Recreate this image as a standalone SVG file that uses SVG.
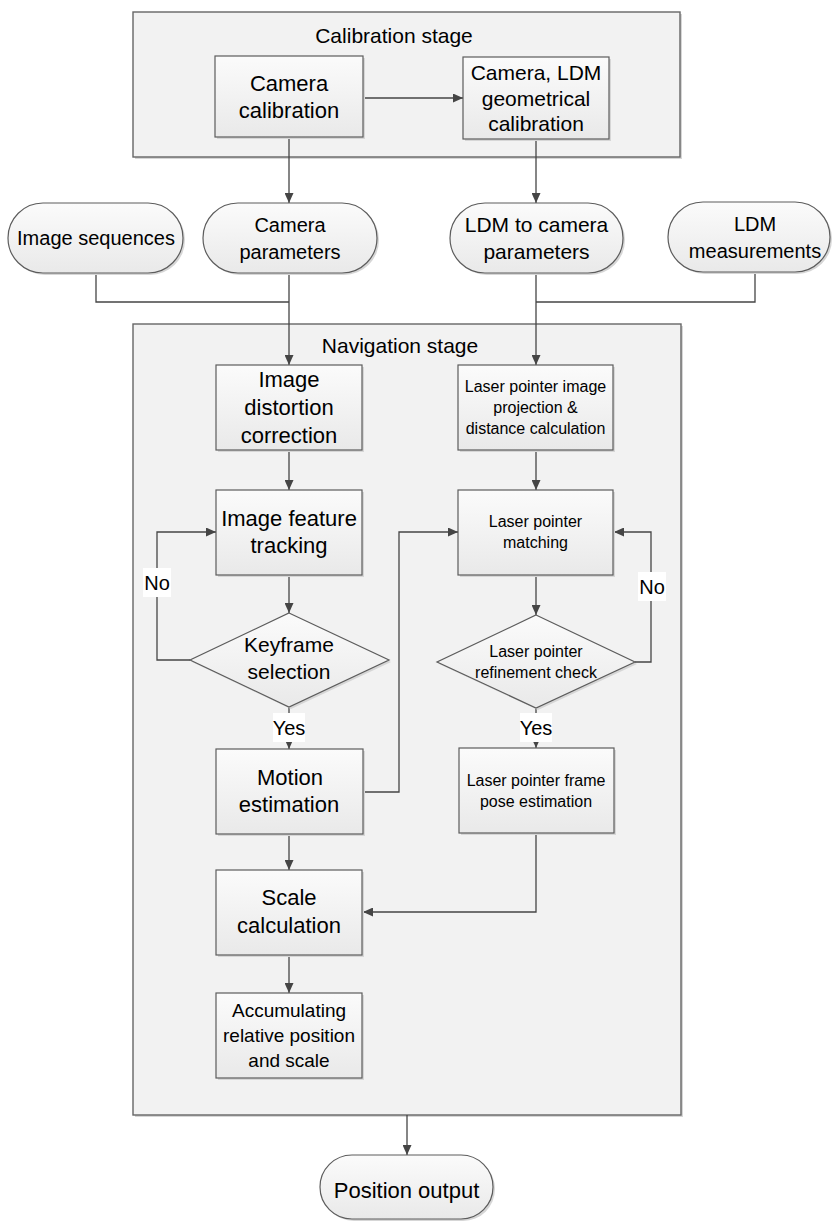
<svg xmlns="http://www.w3.org/2000/svg" width="832" height="1221" viewBox="0 0 832 1221">
<defs>
<linearGradient id="g" x1="0" y1="0" x2="0" y2="1">
<stop offset="0" stop-color="#fbfbfb"/>
<stop offset="1" stop-color="#e9e9e9"/>
</linearGradient>
<marker id="a" markerWidth="10" markerHeight="9" refX="10" refY="4.5" orient="auto" markerUnits="userSpaceOnUse">
<path d="M0,0 L10,4.5 L0,9 z" fill="#454545"/>
</marker>
</defs>
<style>
.stage{fill:#f2f2f2;stroke:#666;stroke-width:1.4}
.sh{fill:#d6d6d6}
.box{fill:url(#g);stroke:#5c5c5c;stroke-width:1.2}
.c{fill:none;stroke:#454545;stroke-width:1.3}
.ar{marker-end:url(#a)}
text{font-family:"Liberation Sans",Arial,sans-serif;fill:#000;text-anchor:middle}
.t21{font-size:21px}
.t22{font-size:22px}
.t20{font-size:20px}
.t16{font-size:16px}
.t19{font-size:19px}
.lbl{fill:#fff}
</style>
<rect width="832" height="1221" fill="#fff"/>

<g id="calibration-stage">
<rect x="135" y="14" width="547" height="145" class="sh"/>
<rect x="133" y="12" width="547" height="145" class="stage"/>
<text x="394" y="42.5" class="t21">Calibration stage</text>
</g>

<g id="navigation-stage">
<rect x="135" y="326" width="548" height="791" class="sh"/>
<rect x="133" y="324" width="548" height="791" class="stage"/>
<text x="400" y="352.5" class="t21">Navigation stage</text>
</g>

<g id="connectors">
<path class="c ar" d="M363,98 L463,98"/>
<path class="c ar" d="M289,137 L289,203"/>
<path class="c ar" d="M536,139 L536,203"/>
<path class="c" d="M96,273 L96,302 L289,302"/>
<path class="c ar" d="M289,273 L289,365"/>
<path class="c ar" d="M536,273 L536,365"/>
<path class="c" d="M755,272 L755,302 L536,302"/>
<path class="c ar" d="M289,450 L289,490"/>
<path class="c ar" d="M536,450 L536,490"/>
<path class="c ar" d="M289,575 L289,613"/>
<path class="c ar" d="M190,660 L157,660 L157,532 L216,532"/>
<path class="c ar" d="M289,707 L289,749"/>
<path class="c ar" d="M363,792 L399,792 L399,532 L458,532"/>
<path class="c ar" d="M536,575 L536,615"/>
<path class="c ar" d="M635,662 L651,662 L651,532 L614,532"/>
<path class="c ar" d="M536,708 L536,748"/>
<path class="c ar" d="M536,833 L536,912 L363,912"/>
<path class="c ar" d="M289,834 L289,870"/>
<path class="c ar" d="M289,955 L289,993"/>
<path class="c ar" d="M407,1115 L407,1155"/>
</g>

<g id="camera-calibration">
<rect x="217" y="58" width="148" height="81" class="sh"/>
<rect x="215" y="56" width="148" height="81" class="box"/>
<text x="289" y="91" class="t22">Camera</text>
<text x="289" y="118" class="t22">calibration</text>
</g>

<g id="geometrical-calibration">
<rect x="465" y="59" width="146" height="82" class="sh"/>
<rect x="463" y="57" width="146" height="82" class="box"/>
<text x="536" y="79.5" class="t21">Camera, LDM</text>
<text x="536" y="105.5" class="t21">geometrical</text>
<text x="536" y="131" class="t21">calibration</text>
</g>

<g id="image-sequences">
<rect x="10" y="205" width="175" height="70" rx="35" class="sh"/>
<rect x="8" y="203" width="175" height="70" rx="35" class="box"/>
<text x="96" y="245" class="t20">Image sequences</text>
</g>

<g id="camera-parameters">
<rect x="205" y="205" width="174" height="70" rx="35" class="sh"/>
<rect x="203" y="203" width="174" height="70" rx="35" class="box"/>
<text x="290" y="232" class="t20">Camera</text>
<text x="290" y="259" class="t20">parameters</text>
</g>

<g id="ldm-camera-parameters">
<rect x="452" y="205" width="173" height="70" rx="35" class="sh"/>
<rect x="450" y="203" width="173" height="70" rx="35" class="box"/>
<text x="536.5" y="232" class="t21">LDM to camera</text>
<text x="536.5" y="259" class="t21">parameters</text>
</g>

<g id="ldm-measurements">
<rect x="670" y="204" width="162" height="70" rx="35" class="sh"/>
<rect x="668" y="202" width="162" height="70" rx="35" class="box"/>
<text x="755" y="231" class="t20">LDM</text>
<text x="755" y="258" class="t20">measurements</text>
</g>

<g id="image-distortion-correction">
<rect x="218" y="367" width="146" height="85" class="sh"/>
<rect x="216" y="365" width="146" height="85" class="box"/>
<text x="289" y="387" class="t22">Image</text>
<text x="289" y="415" class="t22">distortion</text>
<text x="289" y="443" class="t22">correction</text>
</g>

<g id="laser-projection">
<rect x="460" y="367" width="155" height="85" class="sh"/>
<rect x="458" y="365" width="155" height="85" class="box"/>
<text x="535.5" y="392" class="t16">Laser pointer image</text>
<text x="535.5" y="413" class="t16">projection &amp;</text>
<text x="535.5" y="434" class="t16">distance calculation</text>
</g>

<g id="image-feature-tracking">
<rect x="218" y="492" width="146" height="85" class="sh"/>
<rect x="216" y="490" width="146" height="85" class="box"/>
<text x="289" y="526" class="t22">Image feature</text>
<text x="289" y="553" class="t22">tracking</text>
</g>

<g id="laser-matching">
<rect x="460" y="492" width="155" height="85" class="sh"/>
<rect x="458" y="490" width="155" height="85" class="box"/>
<text x="535.5" y="527" class="t16">Laser pointer</text>
<text x="535.5" y="548" class="t16">matching</text>
</g>

<g id="keyframe-selection">
<polygon points="291,615 391,662 291,709 192,662" class="sh"/>
<polygon points="289,613 389,660 289,707 190,660" class="box"/>
<text x="289" y="652" class="t21">Keyframe</text>
<text x="289" y="679" class="t21">selection</text>
</g>

<g id="refinement-check">
<polygon points="538,617 637,664 538,710 439,664" class="sh"/>
<polygon points="536,615 635,662 536,708 437,662" class="box"/>
<text x="536" y="657" class="t16">Laser pointer</text>
<text x="536" y="678" class="t16">refinement check</text>
</g>

<g id="motion-estimation">
<rect x="218" y="751" width="147" height="85" class="sh"/>
<rect x="216" y="749" width="147" height="85" class="box"/>
<text x="290" y="785" class="t22">Motion</text>
<text x="289" y="812" class="t22">estimation</text>
</g>

<g id="pose-estimation">
<rect x="461" y="750" width="155" height="85" class="sh"/>
<rect x="459" y="748" width="155" height="85" class="box"/>
<text x="536" y="786" class="t16">Laser pointer frame</text>
<text x="536" y="807" class="t16">pose estimation</text>
</g>

<g id="scale-calculation">
<rect x="218" y="872" width="146" height="85" class="sh"/>
<rect x="216" y="870" width="146" height="85" class="box"/>
<text x="289" y="905" class="t22">Scale</text>
<text x="289" y="933" class="t22">calculation</text>
</g>

<g id="accumulating">
<rect x="218" y="995" width="146" height="85" class="sh"/>
<rect x="216" y="993" width="146" height="85" class="box"/>
<text x="289" y="1017" class="t19">Accumulating</text>
<text x="289" y="1042" class="t19">relative position</text>
<text x="289" y="1067" class="t19">and scale</text>
</g>

<g id="position-output">
<rect x="322" y="1157" width="173" height="64" rx="32" class="sh"/>
<rect x="320" y="1155" width="173" height="64" rx="32" class="box"/>
<text x="406.5" y="1198" class="t22">Position output</text>
</g>

<g id="labels">
<rect x="143" y="568" width="28" height="29" class="lbl"/>
<text x="157" y="589.5" class="t20">No</text>
<rect x="638" y="572" width="28" height="29" class="lbl"/>
<text x="652" y="593.5" class="t20">No</text>
<rect x="273" y="713" width="32" height="29" class="lbl"/>
<text x="289" y="734.5" class="t20">Yes</text>
<rect x="520" y="713" width="32" height="29" class="lbl"/>
<text x="536" y="734.5" class="t20">Yes</text>
</g>
</svg>
